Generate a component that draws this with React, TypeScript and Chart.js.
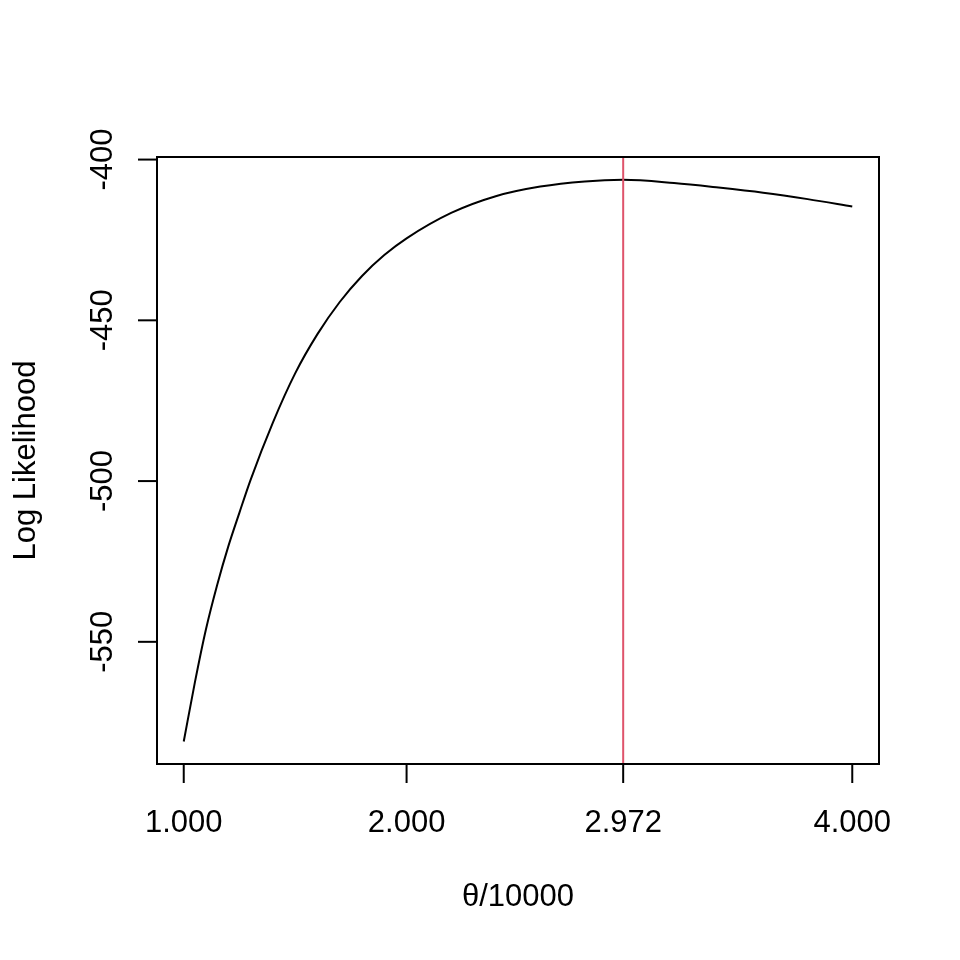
import { useEffect, useRef } from 'react';
import { Chart, registerables } from 'chart.js';

Chart.register(...registerables);

// curve: theta/10000 vs log likelihood
const thetaValues = [
  1.0, 1.05, 1.1, 1.15, 1.2, 1.25, 1.3, 1.4, 1.5, 1.6, 1.7, 1.8,
  1.9, 2.0, 2.2, 2.4, 2.6, 2.8, 2.972, 3.2, 3.4, 3.6, 3.8, 4.0,
];
const logLikValues = [
  -581.0, -562.6, -546.0, -532.3, -520.3, -509.8, -499.6, -481.8, -466.5, -454.3, -444.3, -436.2,
  -429.7, -424.5, -416.6, -411.4, -408.4, -406.8, -406.3, -407.3, -408.7, -410.3, -412.3, -414.6,
];
const mleTheta = 2.972;
const xTicks = [1, 2, 2.972, 4];
const xTickLabels = ['1.000', '2.000', '2.972', '4.000'];
const yTicks = [-400, -450, -500, -550];
const yTickLabels = ['-400', '-450', '-500', '-550'];

const FONT = '31px "Liberation Sans", Arial, Helvetica, sans-serif';

const rAxesPlugin = {
  id: 'rAxes',
  afterDraw(chart: Chart) {
    const { ctx, chartArea } = chart;
    const xs = chart.scales.x;
    const ys = chart.scales.y;
    ctx.save();

    // vertical line at the estimate
    const mx = xs.getPixelForValue(mleTheta);
    ctx.strokeStyle = '#DF536B';
    ctx.lineWidth = 2;
    ctx.beginPath();
    ctx.moveTo(mx, chartArea.top);
    ctx.lineTo(mx, chartArea.bottom);
    ctx.stroke();

    // box
    ctx.strokeStyle = '#000';
    ctx.lineWidth = 2;
    ctx.strokeRect(chartArea.left, chartArea.top, chartArea.right - chartArea.left, chartArea.bottom - chartArea.top);

    ctx.fillStyle = '#000';
    ctx.font = FONT;
    ctx.textAlign = 'center';
    ctx.textBaseline = 'alphabetic';

    // x axis
    xTicks.forEach((v, i) => {
      const px = xs.getPixelForValue(v);
      ctx.beginPath();
      ctx.moveTo(px, chartArea.bottom);
      ctx.lineTo(px, chartArea.bottom + 19);
      ctx.stroke();
      ctx.fillText(xTickLabels[i], px, 832);
    });

    // y axis
    yTicks.forEach((v, i) => {
      const py = ys.getPixelForValue(v);
      ctx.beginPath();
      ctx.moveTo(chartArea.left, py);
      ctx.lineTo(chartArea.left - 19, py);
      ctx.stroke();
      ctx.save();
      ctx.translate(112, py);
      ctx.rotate(-Math.PI / 2);
      ctx.fillText(yTickLabels[i], 0, 0);
      ctx.restore();
    });

    // titles
    const cx = (chartArea.left + chartArea.right) / 2;
    const cy = (chartArea.top + chartArea.bottom) / 2;
    ctx.fillText('\u03B8/10000', cx, 906);
    ctx.save();
    ctx.translate(35, cy);
    ctx.rotate(-Math.PI / 2);
    ctx.fillText('Log Likelihood', 0, 0);
    ctx.restore();

    ctx.restore();
  },
};

export default function App() {
  const canvasRef = useRef<HTMLCanvasElement>(null);

  useEffect(() => {
    if (!canvasRef.current) return;
    const points = thetaValues.map((t, i) => ({ x: t, y: logLikValues[i] }));
    const chart = new Chart(canvasRef.current, {
      type: 'line',
      data: {
        datasets: [{
          data: points,
          borderColor: '#000',
          borderWidth: 2,
          pointRadius: 0,
          fill: false,
          cubicInterpolationMode: 'monotone',
        }],
      },
      options: {
        responsive: false,
        animation: false,
        layout: { padding: { left: 157, top: 157, right: 81, bottom: 196 } },
        plugins: { legend: { display: false }, tooltip: { enabled: false } },
        scales: {
          x: { type: 'linear', min: 0.88, max: 4.12, display: false },
          y: { type: 'linear', min: -588, max: -399.2, display: false },
        },
      },
      plugins: [rAxesPlugin],
    });
    return () => chart.destroy();
  }, []);

  return (
    <div style={{ position: 'fixed', left: 0, top: 0, width: 960, height: 960, background: '#fff' }}>
      <canvas ref={canvasRef} width={960} height={960} style={{ width: 960, height: 960 }} />
    </div>
  );
}
